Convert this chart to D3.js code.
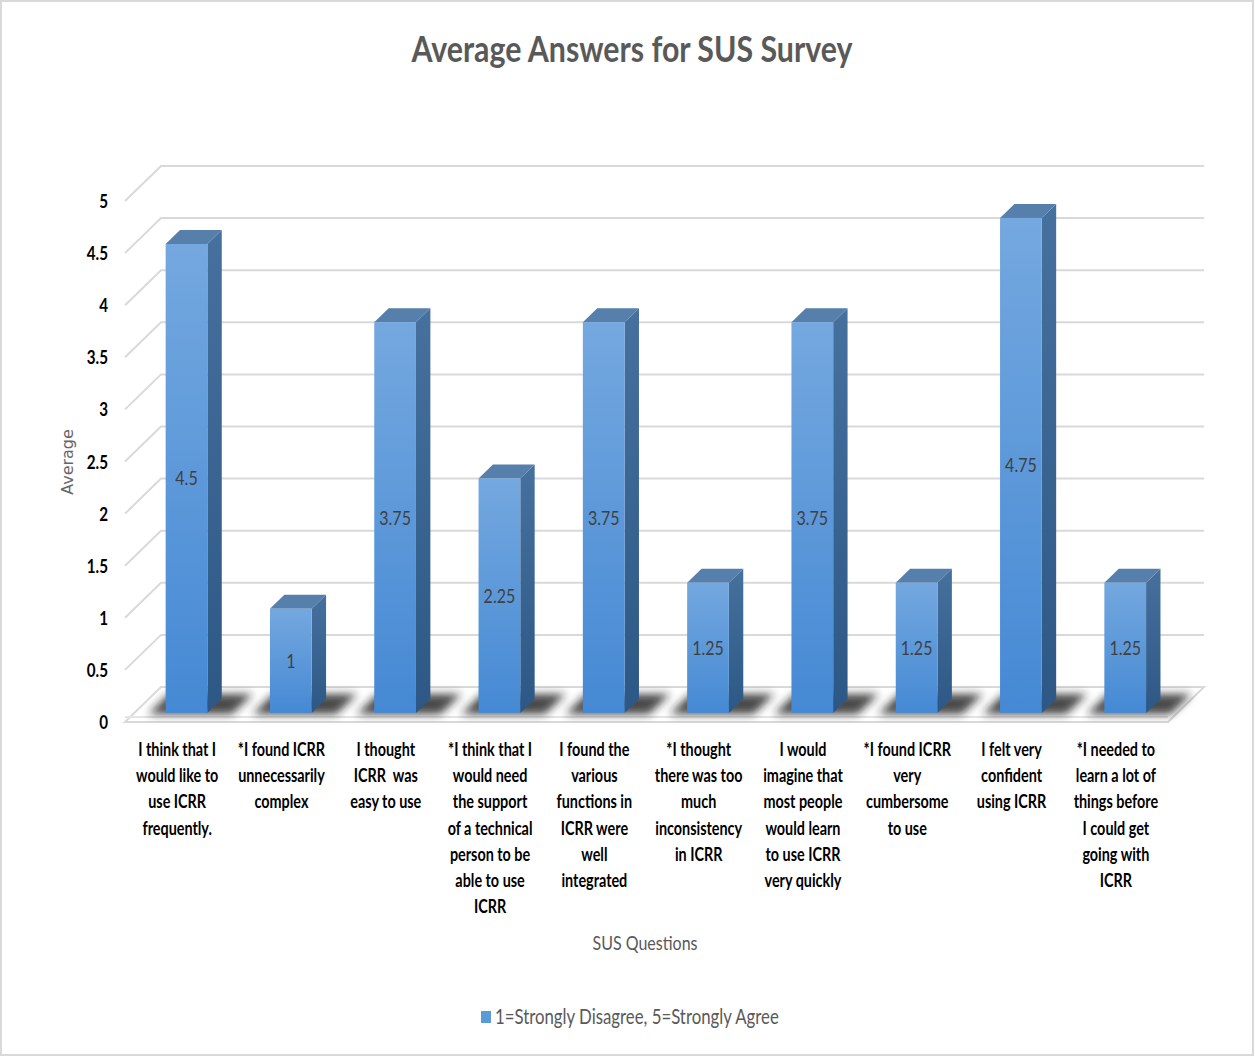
<!DOCTYPE html>
<html>
<head>
<meta charset="utf-8">
<script src="https://cdn.jsdelivr.net/npm/d3@7/dist/d3.min.js"></script>
<style>
  body { margin: 0; background: #fff; }
  svg { display: block; }
  text { white-space: pre; }
</style>
</head>
<body>
<div id="chart"></div>
<script>
// data
const questions = [
  ["I think that I", "would like to", "use ICRR", "frequently."],
  ["*I found ICRR", "unnecessarily", "complex"],
  ["I thought", "ICRR  was", "easy to use"],
  ["*I think that I", "would need", "the support", "of a technical", "person to be", "able to use", "ICRR"],
  ["I found the", "various", "functions in", "ICRR were", "well", "integrated"],
  ["*I thought", "there was too", "much", "inconsistency", "in ICRR"],
  ["I would", "imagine that", "most people", "would learn", "to use ICRR", "very quickly"],
  ["*I found ICRR", "very", "cumbersome", "to use"],
  ["I felt very", "confident", "using ICRR"],
  ["*I needed to", "learn a lot of", "things before", "I could get", "going with", "ICRR"]
];
const averages = [4.5, 1, 3.75, 2.25, 3.75, 1.25, 3.75, 1.25, 4.75, 1.25];
const yTicks = [0, 0.5, 1, 1.5, 2, 2.5, 3, 3.5, 4, 4.5, 5];
const title = "Average Answers for SUS Survey";
const seriesName = "1=Strongly Disagree, 5=Strongly Agree";

const W = 1255, H = 1057;
const SX = 0.8; // horizontal squeeze of text
const FONT = "Lato, 'Open Sans', sans-serif";

const svg = d3.select("#chart").append("svg").attr("width", W).attr("height", H);
const defs = svg.append("defs");

const gFront = defs.append("linearGradient").attr("id", "gFront").attr("x1", 0).attr("y1", 0).attr("x2", 0).attr("y2", 1);
gFront.append("stop").attr("offset", 0).attr("stop-color", "#74a8df");
gFront.append("stop").attr("offset", 1).attr("stop-color", "#4589d4");
const gSide = defs.append("linearGradient").attr("id", "gSide").attr("x1", 0).attr("y1", 0).attr("x2", 0).attr("y2", 1);
gSide.append("stop").attr("offset", 0).attr("stop-color", "#46709e");
gSide.append("stop").attr("offset", 1).attr("stop-color", "#2d5886");
defs.append("filter").attr("id", "blur").attr("x", "-30%").attr("y", "-60%").attr("width", "160%").attr("height", "220%")
  .append("feGaussianBlur").attr("stdDeviation", 4);

// border
svg.append("rect").attr("x", 1).attr("y", 1).attr("width", W - 3).attr("height", H - 3)
  .attr("fill", "#fff").attr("stroke", "#d9d9d9").attr("stroke-width", 2);

const x = d3.scaleBand().domain(d3.range(averages.length)).range([125, 1168]).paddingInner(0.6).paddingOuter(0.3);
const y = d3.scaleLinear().domain([0, 5]).range([722, 201]);
const DX = 36, DY = -35; // full depth offset
const P = (px, v, z) => [px + z * DX, y(v) + z * DY];
const Z0 = 0.26, Z1 = 0.66;

function squeezedText(g, tx, ty, txt, anchor) {
  return g.append("text").attr("transform", `translate(${tx},${ty}) scale(${SX},1)`)
    .attr("text-anchor", anchor).text(txt);
}

// back wall & side wall gridlines
const grid = svg.append("g").attr("stroke", "#d9d9d9").attr("stroke-width", 2).attr("fill", "none");
yTicks.forEach(v => {
  if (v === 0) return;
  const a = P(125, v, 0), b = P(125, v, 1), c = P(1168, v, 1);
  grid.append("polyline").attr("points", [a, b, c].map(p => p.join(",")).join(" "));
});

// floor
const fl = [P(125, 0, 0), P(125, 0, 1), P(1168, 0, 1), P(1168, 0, 0)];
svg.append("polygon").attr("points", fl.map(p => p.join(",")).join(" "))
  .attr("fill", "#fff").attr("stroke", "#d9d9d9").attr("stroke-width", 2);
svg.append("line").attr("x1", 125).attr("x2", 1168).attr("y1", y(0) - 5).attr("y2", y(0) - 5)
  .attr("stroke", "#e4e4e4").attr("stroke-width", 2);

// shadows on the floor
const shadow = svg.append("g").attr("filter", "url(#blur)").attr("opacity", 0.8);
averages.forEach((v, i) => {
  const x0 = x(i) - 16, x1 = x(i) + x.bandwidth() + 26;
  const pts = [P(x0, 0, 0.22), P(x0, 0, 0.8), P(x1, 0, 0.8), P(x1, 0, 0.22)];
  shadow.append("polygon").attr("points", pts.map(p => p.join(",")).join(" ")).attr("fill", "#1a1a1a");
});

// bars
const bars = svg.append("g");
averages.forEach((v, i) => {
  const xl = x(i), xr = x(i) + x.bandwidth();
  const g = bars.append("g");
  const side = [P(xr, 0, Z0), P(xr, v, Z0), P(xr, v, Z1), P(xr, 0, Z1)];
  g.append("polygon").attr("points", side.map(p => p.join(",")).join(" ")).attr("fill", "url(#gSide)");
  const top = [P(xl, v, Z0), P(xl, v, Z1), P(xr, v, Z1), P(xr, v, Z0)];
  g.append("polygon").attr("points", top.map(p => p.join(",")).join(" ")).attr("fill", "#567fab");
  const f0 = P(xl, v, Z0), f1 = P(xr, 0, Z0);
  g.append("rect").attr("x", f0[0]).attr("y", f0[1]).attr("width", f1[0] - f0[0]).attr("height", f1[1] - f0[1])
    .attr("fill", "url(#gFront)");
});

// data labels
const dl = svg.append("g").attr("font-family", FONT).attr("font-size", 20).attr("fill", "#404040");
averages.forEach((v, i) => {
  const c = P(x(i) + x.bandwidth() / 2, v / 2, Z0);
  squeezedText(dl, c[0], c[1] + 7, String(v), "middle");
});

// y axis ticks
const ya = svg.append("g").attr("font-family", FONT).attr("font-size", 19).attr("font-weight", "bold").attr("fill", "#000");
yTicks.forEach(v => squeezedText(ya, 108, y(v) + 7, String(v), "end"));

// y title
svg.append("text").attr("transform", "translate(73,462) rotate(-90)")
  .attr("text-anchor", "middle").attr("font-family", "'DejaVu Sans', sans-serif").attr("font-size", 16)
  .attr("fill", "#666").text("Average");

// category labels
const xa = svg.append("g").attr("font-family", FONT).attr("font-size", 18).attr("font-weight", "bold").attr("fill", "#000");
questions.forEach((lines, i) => {
  const cx = 125 + (i + 0.5) * (1043 / questions.length);
  lines.forEach((ln, j) => squeezedText(xa, cx, 756 + j * 26.2, ln, "middle"));
});

// x title
squeezedText(svg.append("g").attr("font-family", FONT).attr("font-size", 20).attr("fill", "#595959"),
  645, 950, "SUS Questions", "middle");

// title
svg.append("text").attr("x", 632).attr("y", 62).attr("text-anchor", "middle")
  .attr("font-family", FONT).attr("font-size", 36).attr("font-weight", "bold").attr("fill", "#595959")
  .attr("textLength", 441).attr("lengthAdjust", "spacingAndGlyphs").text(title);

// legend
svg.append("rect").attr("x", 481).attr("y", 1011).attr("width", 10).attr("height", 12).attr("fill", "#5b9bd5");
squeezedText(svg.append("g").attr("font-family", FONT).attr("font-size", 21).attr("fill", "#595959"),
  495, 1024, seriesName, "start");
</script>
</body>
</html>
